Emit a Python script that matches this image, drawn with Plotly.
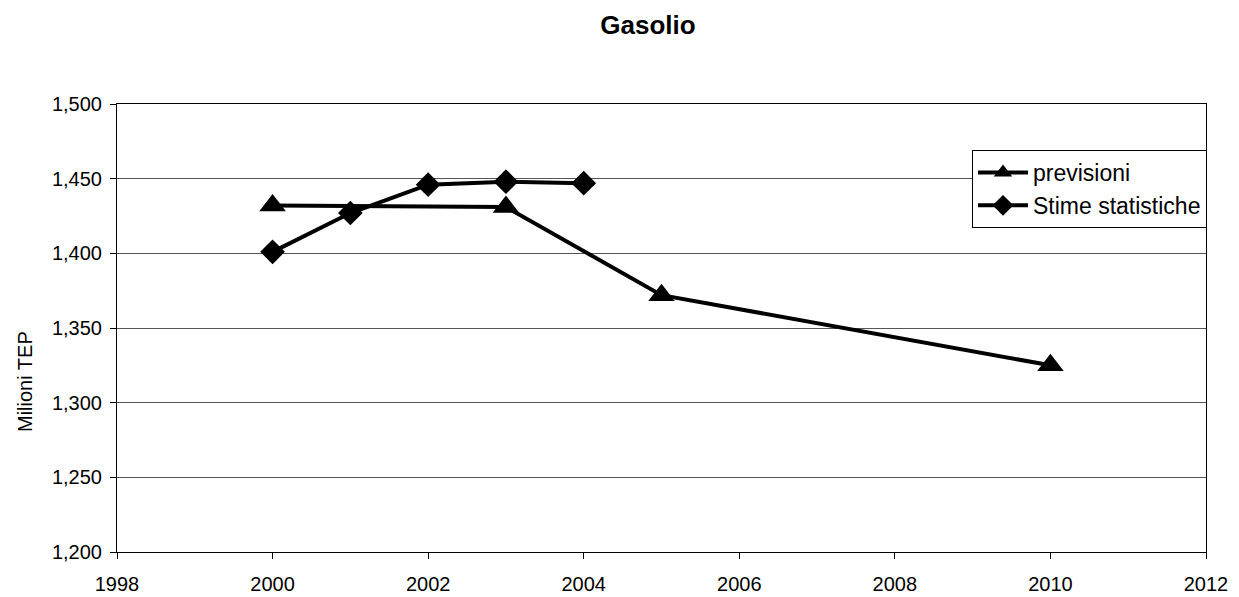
import plotly.graph_objects as go

title_text = "Gasolio"
y_title = "Milioni TEP"

years_prev = [2000, 2003, 2005, 2010]
prev_vals = [1432, 1431, 1372, 1325]

years_stat = [2000, 2001, 2002, 2003, 2004]
stat_vals = [1401, 1427, 1446, 1448, 1447]

FONT = "Liberation Sans, Arial, sans-serif"

fig = go.Figure()
fig.add_trace(go.Scatter(
    x=years_prev, y=prev_vals, name="previsioni", mode="lines+markers",
    line=dict(color="black", width=4),
    marker=dict(symbol="triangle-up", size=23, color="black"),
    legendgroup="a",
))
fig.add_trace(go.Scatter(
    x=years_stat, y=stat_vals, name="Stime statistiche", mode="lines+markers",
    line=dict(color="black", width=4),
    marker=dict(symbol="diamond", size=19, color="black"),
    legendgroup="b",
))

fig.update_layout(
    width=1239, height=597,
    paper_bgcolor="white", plot_bgcolor="white",
    margin=dict(l=117, r=33, t=104, b=45, autoexpand=False),
    font=dict(family=FONT, size=20, color="black"),
    title=dict(text="<b>" + title_text + "</b>", x=648 / 1239, xanchor="center",
               y=1 - 25 / 597, yanchor="middle", xref="container", yref="container",
               font=dict(size=26, family=FONT, color="black")),
    showlegend=True,
    legend=dict(x=(972 - 117) / 1089, y=(552 - 150) / 448, xanchor="left", yanchor="top",
                bordercolor="black", borderwidth=1, bgcolor="white",
                font=dict(size=23, family=FONT), traceorder="grouped", tracegroupgap=0,
                itemwidth=50),
    xaxis=dict(range=[1998, 2012], dtick=2, tick0=1998, showgrid=False,
               showline=True, linecolor="black", linewidth=1, mirror=True,
               ticks="outside", ticklen=6, tickcolor="black", automargin=False,
               ticklabelstandoff=8,
               tickfont=dict(size=20), zeroline=False),
    yaxis=dict(range=[1200, 1500], dtick=50, tick0=1200, tickformat=",d",
               showgrid=True, gridcolor="#555555", gridwidth=1,
               showline=True, linecolor="black", linewidth=1, mirror=True,
               ticks="outside", ticklen=6, tickcolor="black", automargin=False,
               ticklabelstandoff=4,
               tickfont=dict(size=20), zeroline=False),
    annotations=[dict(text=y_title, xref="paper", yref="paper",
                      x=(25 - 117) / 1089, y=(552 - 382) / 448, textangle=-90,
                      showarrow=False, xanchor="center", yanchor="middle",
                      font=dict(size=20, family=FONT, color="black"))],
)

fig.write_html(
    "out.html",
    config={"displayModeBar": False},
    post_script="document.body.style.margin='0';document.body.style.padding='0';"
                "document.body.style.overflow='hidden';",
)
